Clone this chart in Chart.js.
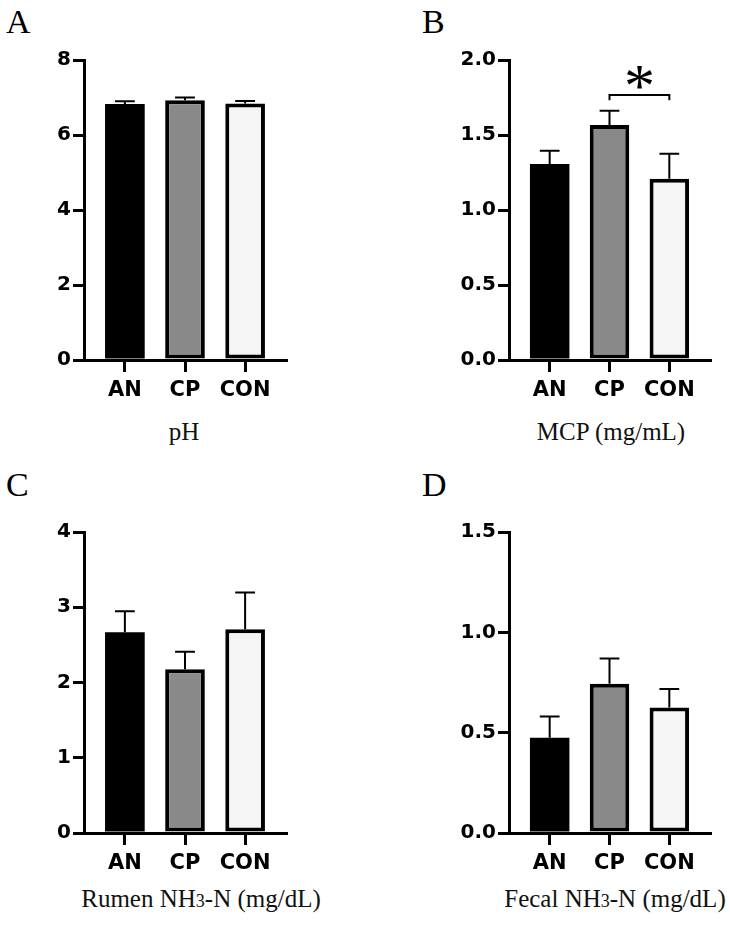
<!DOCTYPE html>
<html>
<head>
<meta charset="utf-8">
<script src="https://cdn.jsdelivr.net/npm/chart.js@4.4.0/dist/chart.umd.min.js"></script>
<style>
    body { margin: 0; background: #fff; }
    #page { position: relative; width: 730px; height: 925px; overflow: hidden; }
    .panel { position: absolute; }
    .letter { position: absolute; font-family: 'Liberation Serif', serif; font-size: 34px; line-height: 34px; color: #000; }
    .caption { position: absolute; font-family: 'Liberation Serif', serif; font-size: 25px; line-height: 25px; white-space: nowrap; transform: translateX(-50%); color: #111; }
    .small { font-size: 18px; }
</style>
</head>
<body>
<div id="page">
    <div class="letter" style="left:6px;top:5px">A</div>
    <div class="letter" style="left:422px;top:5px">B</div>
    <div class="letter" style="left:6px;top:468px">C</div>
    <div class="letter" style="left:422px;top:468px">D</div>

    <div class="panel" style="left:0;top:0"><canvas id="chartA" width="365" height="410"></canvas></div>
    <div class="panel" style="left:365px;top:0"><canvas id="chartB" width="365" height="410"></canvas></div>
    <div class="panel" style="left:0;top:462px"><canvas id="chartC" width="365" height="420"></canvas></div>
    <div class="panel" style="left:365px;top:462px"><canvas id="chartD" width="365" height="420"></canvas></div>

    <div class="caption" style="left:184px;top:419px">pH</div>
    <div class="caption" style="left:611px;top:419px">MCP (mg/mL)</div>
    <div class="caption" style="left:201px;top:886px">Rumen NH<span class="small">3</span>-N (mg/dL)</div>
    <div class="caption" style="left:615px;top:886px">Fecal NH<span class="small">3</span>-N (mg/dL)</div>
</div>
<script>
'use strict';
// data
const groups = ['AN', 'CP', 'CON'];
const barColors = ['#000000', '#898989', '#f4f5f4'];

const phMean = [6.83, 6.93, 6.84];
const phSem = [0.07, 0.07, 0.07];

const mcpMean = [1.307, 1.567, 1.209];
const mcpSem = [0.088, 0.095, 0.166];
// significance CP vs CON
const mcpSigPair = [1, 2];
const mcpSigLevel = 1.767;
const mcpStarLevel = 1.883;

const rumenMean = [2.667, 2.175, 2.707];
const rumenSem = [0.28, 0.235, 0.49];

const fecalMean = [0.475, 0.744, 0.626];
const fecalSem = [0.105, 0.126, 0.091];

Chart.defaults.font.family = "'DejaVu Sans', sans-serif";
Chart.defaults.color = '#000';

// error bars (upper only)
const errorBars = {
    id: 'errorBars',
    afterDatasetsDraw(chart, args, opts) {
        const ctx = chart.ctx;
        const yScale = chart.scales.y;
        const meta = chart.getDatasetMeta(0);
        const means = chart.data.datasets[0].data;
        ctx.save();
        ctx.strokeStyle = '#000';
        ctx.lineWidth = 2;
        meta.data.forEach((bar, i) => {
            const top = yScale.getPixelForValue(means[i].y + opts.sem[i]);
            const half = bar.width / 4;
            ctx.beginPath();
            ctx.moveTo(bar.x, bar.y);
            ctx.lineTo(bar.x, top);
            ctx.moveTo(bar.x - half, top);
            ctx.lineTo(bar.x + half, top);
            ctx.stroke();
        });
        ctx.restore();
    }
};

// bracket + asterisk
const sigBracket = {
    id: 'sigBracket',
    afterDatasetsDraw(chart, args, opts) {
        if (!opts.pair) return;
        const ctx = chart.ctx;
        const x = chart.scales.x;
        const y = chart.scales.y;
        const x1 = x.getPixelForValue(opts.pair[0]);
        const x2 = x.getPixelForValue(opts.pair[1]);
        const yl = y.getPixelForValue(opts.level);
        const yd = y.getPixelForValue(opts.level - 0.035);
        ctx.save();
        ctx.strokeStyle = '#000';
        ctx.lineWidth = 2;
        ctx.beginPath();
        ctx.moveTo(x1, yd);
        ctx.lineTo(x1, yl);
        ctx.lineTo(x2, yl);
        ctx.lineTo(x2, yd);
        ctx.stroke();
        ctx.font = "62px 'Liberation Serif', serif";
        ctx.fillStyle = '#000';
        ctx.textAlign = 'center';
        ctx.textBaseline = 'alphabetic';
        const m = ctx.measureText('*');
        const ys = y.getPixelForValue(opts.star);
        ctx.fillText('*', (x1 + x2) / 2, ys + (m.actualBoundingBoxAscent - m.actualBoundingBoxDescent) / 2);
        ctx.restore();
    }
};

const makeChart = (id, means, sem, yMax, yStep, digits, axisWidth, padTop, padRight, padBottom, sig) => {
    const ctx = document.getElementById(id);
    return new Chart(ctx.getContext('2d'), {
        type: 'bar',
        data: {
            datasets: [{
                data: means.map((v, i) => ({ x: i, y: v })),
                backgroundColor: barColors,
                borderColor: '#000',
                // black bar needs no separate outline
                borderWidth: [0, 4, 4],
                borderSkipped: false,
                categoryPercentage: 1,
                barPercentage: 0.66
            }]
        },
        options: {
            responsive: false,
            animation: false,
            events: [],
            layout: {
                padding: { top: padTop, right: padRight, bottom: padBottom, left: 0 }
            },
            plugins: {
                legend: { display: false },
                tooltip: { enabled: false },
                errorBars: { sem: sem },
                sigBracket: sig || {}
            },
            scales: {
                x: {
                    type: 'linear',
                    offset: false,
                    min: -0.68,
                    max: groups.length - 1 + 0.68,
                    afterBuildTicks: s => { s.ticks = groups.map((g, i) => ({ value: i })); },
                    afterFit: s => { s.height = 40; },
                    grid: { offset: false, drawOnChartArea: false, tickLength: 12, lineWidth: 3, color: '#000' },
                    border: { display: true, width: 3, color: '#000' },
                    ticks: {
                        autoSkip: false,
                        maxRotation: 0,
                        padding: 6,
                        font: { size: 21, weight: 'bold' },
                        callback: v => groups[v]
                    }
                },
                y: {
                    min: 0,
                    max: yMax,
                    afterFit: s => { s.width = axisWidth; },
                    grid: { drawOnChartArea: false, tickLength: 11, lineWidth: 3, color: '#000' },
                    border: { display: true, width: 3, color: '#000' },
                    ticks: {
                        stepSize: yStep,
                        padding: 2,
                        font: { size: 20, weight: 'bold' },
                        callback: v => v.toFixed(digits)
                    }
                }
            }
        },
        plugins: [errorBars, sigBracket]
    });
}

makeChart('chartA', phMean, phSem, 8, 2, 0, 84, 60, 79, 10);
makeChart('chartB', mcpMean, mcpSem, 2, 0.5, 1, 144, 60, 20, 10,
    { pair: mcpSigPair, level: mcpSigLevel, star: mcpStarLevel });
makeChart('chartC', rumenMean, rumenSem, 4, 1, 0, 84, 70, 79, 9);
makeChart('chartD', fecalMean, fecalSem, 1.5, 0.5, 1, 144, 70, 20, 9);
</script>
</body>
</html>
